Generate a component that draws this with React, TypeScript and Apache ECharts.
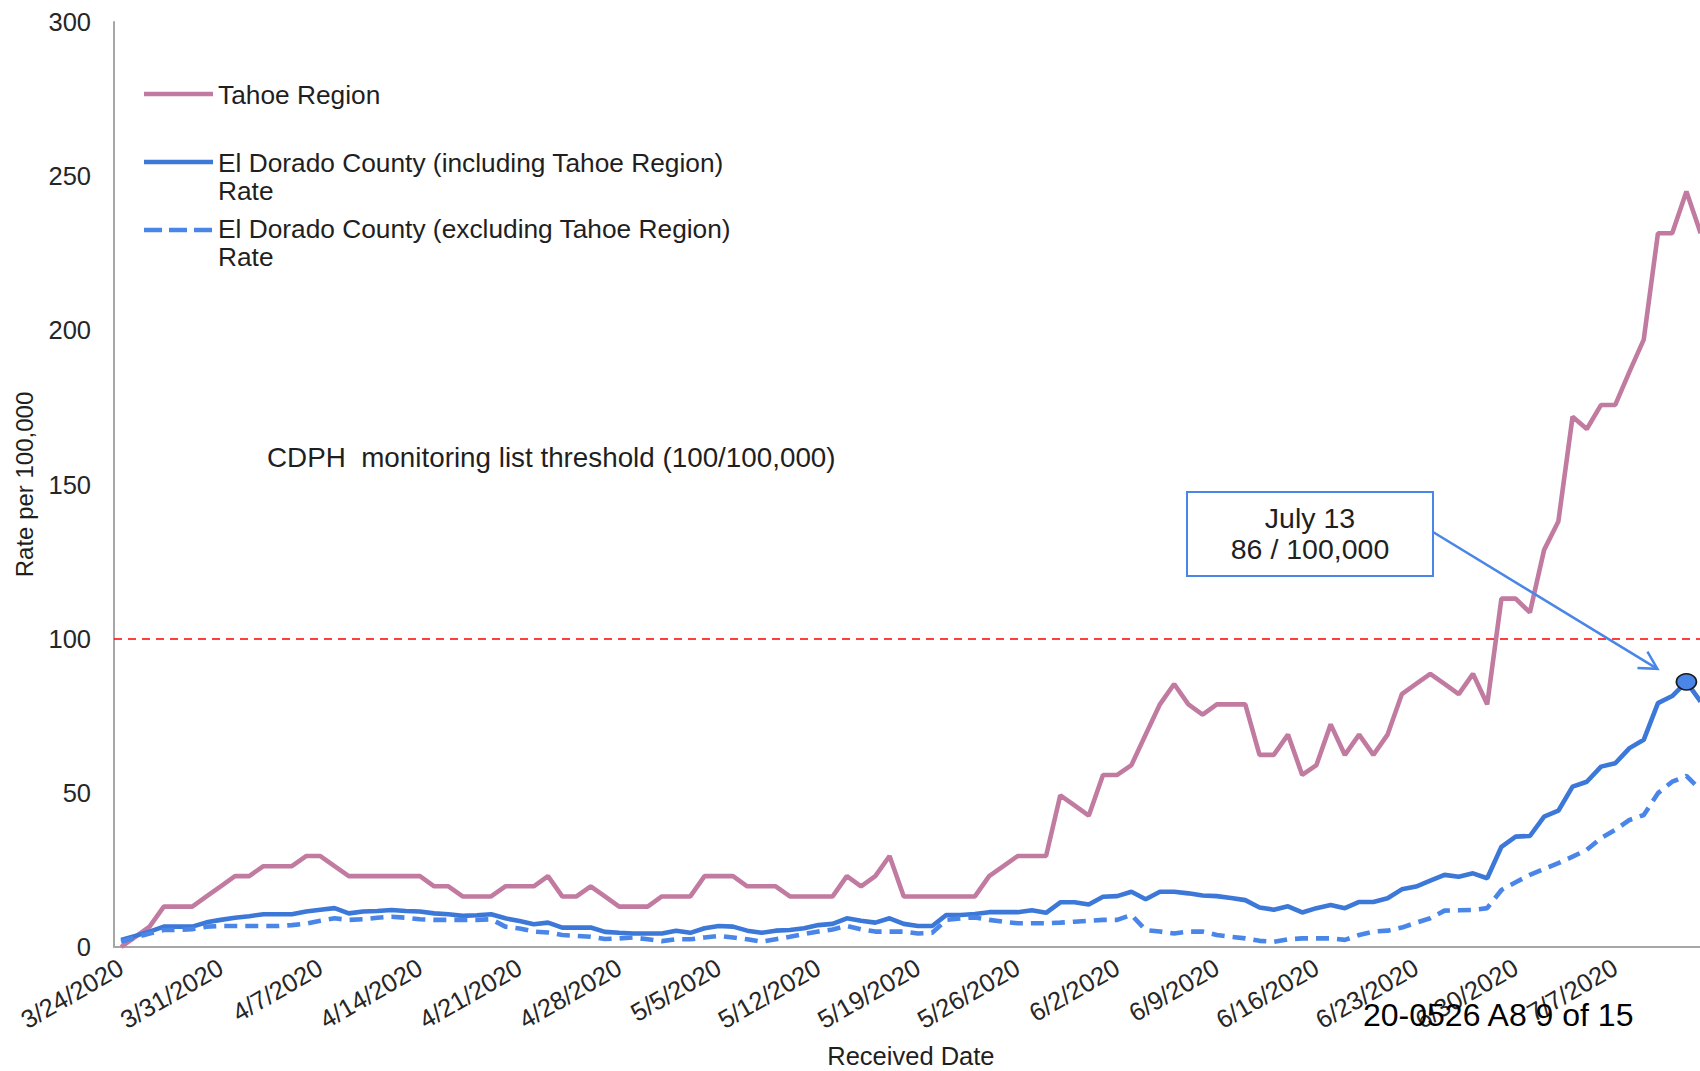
import React, { useEffect, useRef } from "react";
import * as echarts from "echarts";

// ---- data ----
const startDate = [2020, 3, 24]; // year, month, day of the first category
const dayCount = 112;
const dates: string[] = Array.from({ length: dayCount }, (_, i) => {
  const d = new Date(startDate[0], startDate[1] - 1, startDate[2] + i);
  return `${d.getMonth() + 1}/${d.getDate()}/${d.getFullYear()}`;
});

const tahoeRegion = [
  0, 3.3, 6.6, 13.1, 13.1, 13.1, 16.4, 19.7, 23.0, 23.0,
  26.2, 26.2, 26.2, 29.5, 29.5, 26.2, 23.0, 23.0, 23.0, 23.0,
  23.0, 23.0, 19.7, 19.7, 16.4, 16.4, 16.4, 19.7, 19.7, 19.7,
  23.0, 16.4, 16.4, 19.7, 16.4, 13.1, 13.1, 13.1, 16.4, 16.4,
  16.4, 23.0, 23.0, 23.0, 19.7, 19.7, 19.7, 16.4, 16.4, 16.4,
  16.4, 23.0, 19.7, 23.0, 29.5, 16.4, 16.4, 16.4, 16.4, 16.4,
  16.4, 23.0, 26.2, 29.5, 29.5, 29.5, 49.2, 45.9, 42.6, 55.8,
  55.8, 59.0, 68.9, 78.7, 85.3, 78.7, 75.4, 78.7, 78.7, 78.7,
  62.3, 62.3, 68.9, 55.8, 59.0, 72.2, 62.3, 68.9, 62.3, 68.9,
  82.0, 85.3, 88.6, 85.3, 82.0, 88.6, 78.7, 113.0, 113.0, 108.5,
  128.8, 138.0, 172.0, 168.0, 175.8, 175.8, 186.6, 197.0, 231.5, 231.5,
  245.0, 231.5,
];

const elDoradoIncl = [
  2.3, 3.6, 5.0, 6.6, 6.6, 6.6, 8.0, 8.8, 9.5, 10.0,
  10.6, 10.6, 10.6, 11.5, 12.1, 12.6, 10.9, 11.5, 11.7, 12.0,
  11.7, 11.5, 10.9, 10.6, 10.1, 10.3, 10.6, 9.3, 8.4, 7.4,
  7.9, 6.3, 6.3, 6.3, 4.9, 4.6, 4.4, 4.4, 4.4, 5.3,
  4.6, 6.1, 6.8, 6.6, 5.3, 4.6, 5.3, 5.5, 6.1, 7.1,
  7.5, 9.3, 8.5, 7.9, 9.3, 7.5, 6.8, 6.8, 10.4, 10.4,
  10.7, 11.3, 11.3, 11.3, 11.9, 11.1, 14.5, 14.5, 13.8, 16.3,
  16.5, 17.9, 15.5, 17.9, 17.9, 17.4, 16.7, 16.5, 15.9, 15.2,
  12.8, 12.1, 13.2, 11.2, 12.6, 13.6, 12.6, 14.6, 14.6, 15.8,
  18.7, 19.6, 21.5, 23.4, 22.8, 23.9, 22.3, 32.5, 35.8, 36.0,
  42.3, 44.2, 52.0, 53.6, 58.5, 59.6, 64.5, 67.2, 79.1, 81.4,
  86.0, 79.6,
];

const elDoradoExcl = [
  1.7, 3.1, 4.4, 5.5, 5.5, 5.8, 6.6, 6.8, 6.8, 6.8,
  6.8, 6.8, 7.1, 7.6, 8.5, 9.3, 8.8, 9.0, 9.5, 9.8,
  9.5, 9.0, 8.8, 8.8, 8.8, 8.8, 9.0, 6.6, 6.0, 5.0,
  4.7, 3.9, 3.6, 3.3, 2.6, 2.8, 3.1, 2.5, 1.9, 2.5,
  2.5, 3.1, 3.6, 3.1, 2.5, 1.7, 2.5, 3.3, 4.2, 5.0,
  5.7, 6.8, 5.7, 5.0, 5.0, 5.0, 4.4, 4.6, 8.8, 9.3,
  9.6, 8.8, 8.2, 7.7, 7.7, 7.7, 7.9, 8.2, 8.5, 8.8,
  8.8, 10.4, 5.5, 5.0, 4.4, 5.0, 5.0, 3.9, 3.3, 2.8,
  2.0, 1.7, 2.5, 2.8, 2.8, 2.8, 2.3, 3.9, 5.0, 5.3,
  6.3, 7.9, 9.3, 11.8, 11.9, 12.0, 12.6, 18.5, 21.0, 23.4,
  25.3, 27.2, 29.3, 31.5, 35.3, 38.0, 41.2, 42.8, 49.9, 53.6,
  55.5, 50.9,
];

const seriesNames = [
  "Tahoe Region",
  "El Dorado County (including Tahoe Region)",
  "El Dorado County (excluding Tahoe Region)",
];
const thresholdValue = 100;
const thresholdText = "CDPH  monitoring list threshold (100/100,000)";
const highlightIndex = 110;
const highlightLines = ["July 13", "86 / 100,000"];
const stampText = "20-0526 A8 9 of 15";
const yTicks = { min: 0, max: 300, interval: 50 };

const FONT = "'Liberation Sans', Arial, Helvetica, sans-serif";
const C_TAHOE = "#C27BA0";
const C_INCL = "#3C78D8";
const C_EXCL = "#4A86E8";
const C_TEXT = "#1f1f1f";

export default function App() {
  const ref = useRef<HTMLDivElement>(null);

  useEffect(() => {
    if (!ref.current) return;
    const chart = echarts.init(ref.current, undefined, { renderer: "svg" });
    const catW = 14.23;
    chart.setOption({
      animation: false,
      backgroundColor: "#ffffff",
      textStyle: { fontFamily: FONT },
      grid: {
        left: 114,
        top: 22,
        width: catW * dayCount,
        height: 925,
        containLabel: false,
        outerBoundsMode: "none",
      },
      xAxis: {
        type: "category",
        data: dates,
        boundaryGap: true,
        axisLine: { show: true, lineStyle: { color: "#A6A6A6", width: 2 } },
        axisTick: { show: false },
        axisLabel: {
          interval: (i: number) => i % 7 === 0,
          rotate: 30,
          fontSize: 25.5,
          color: "#262626",
          margin: 18,
          fontFamily: FONT,
        },
        name: "Received Date",
        nameLocation: "middle",
        nameGap: 96,
        nameTextStyle: { fontSize: 25.5, color: C_TEXT, fontFamily: FONT },
        splitLine: { show: false },
      },
      yAxis: {
        type: "value",
        min: yTicks.min,
        max: yTicks.max,
        interval: yTicks.interval,
        axisLine: { show: true, lineStyle: { color: "#A6A6A6", width: 2 } },
        axisTick: { show: false },
        splitLine: { show: false },
        axisLabel: { fontSize: 25.5, color: "#262626", margin: 23, fontFamily: FONT },
        name: "Rate per 100,000",
        nameLocation: "middle",
        nameRotate: 90,
        nameGap: 78,
        nameTextStyle: { fontSize: 24, color: C_TEXT, fontFamily: FONT },
      },
      series: [
        {
          name: seriesNames[0],
          type: "line",
          data: tahoeRegion,
          symbol: "none",
          lineStyle: { color: C_TAHOE, width: 4.6 },
          itemStyle: { color: C_TAHOE },
          markLine: {
            silent: true,
            symbol: ["none", "none"],
            label: { show: false },
            lineStyle: { color: "#FF0000", type: [8, 6], width: 1.6 },
            data: [{ yAxis: thresholdValue }],
          },
        },
        {
          name: seriesNames[1],
          type: "line",
          data: elDoradoIncl,
          symbol: "none",
          lineStyle: { color: C_INCL, width: 4.6 },
          itemStyle: { color: C_INCL },
          markPoint: {
            symbol: "circle",
            symbolSize: [20, 16],
            label: { show: false },
            itemStyle: { color: C_EXCL, borderColor: "#1a1a1a", borderWidth: 1.6 },
            data: [{ coord: [highlightIndex, elDoradoIncl[highlightIndex]] }],
          },
        },
        {
          name: seriesNames[2],
          type: "line",
          data: elDoradoExcl,
          symbol: "none",
          lineStyle: { color: C_EXCL, width: 4.6, type: [13, 8] },
          itemStyle: { color: C_EXCL },
        },
      ],
    });

    const p = chart.convertToPixel({ xAxisIndex: 0, yAxisIndex: 0 }, [
      highlightIndex,
      elDoradoIncl[highlightIndex],
    ]) as number[];
    const tip = [p[0] - 29, p[1] - 13];
    const from = [1433, 532];
    const ang = Math.atan2(from[1] - tip[1], from[0] - tip[0]);
    const wing = 20;
    const spread = 0.5;
    const w1 = [tip[0] + wing * Math.cos(ang + spread), tip[1] + wing * Math.sin(ang + spread)];
    const w2 = [tip[0] + wing * Math.cos(ang - spread), tip[1] + wing * Math.sin(ang - spread)];

    const legendText = (x: number, y: number, t: string) => ({
      type: "text",
      x,
      y,
      style: { text: t, fontSize: 26.3, fill: C_TEXT, fontFamily: FONT, verticalAlign: "middle" },
      z: 10,
    });

    chart.setOption({
      graphic: [
        { type: "line", shape: { x1: 144, y1: 94, x2: 213, y2: 94 }, style: { stroke: C_TAHOE, lineWidth: 4.6 }, z: 10 },
        legendText(218, 95, seriesNames[0]),
        { type: "line", shape: { x1: 144, y1: 162, x2: 213, y2: 162 }, style: { stroke: C_INCL, lineWidth: 4.6 }, z: 10 },
        legendText(218, 163, seriesNames[1]),
        legendText(218, 191, "Rate"),
        { type: "line", shape: { x1: 144, y1: 230, x2: 213, y2: 230 }, style: { stroke: C_EXCL, lineWidth: 4.6, lineDash: [18, 7] }, z: 10 },
        legendText(218, 229, seriesNames[2]),
        legendText(218, 257, "Rate"),
        {
          type: "text",
          x: 267,
          y: 457,
          style: { text: thresholdText, fontSize: 27.8, fill: C_TEXT, fontFamily: FONT, verticalAlign: "middle" },
          z: 10,
        },
        {
          type: "rect",
          shape: { x: 1187, y: 492, width: 246, height: 84 },
          style: { fill: "#ffffff", stroke: C_EXCL, lineWidth: 2 },
          z: 10,
        },
        {
          type: "text",
          x: 1310,
          y: 518,
          style: { text: highlightLines[0], fontSize: 28.5, fill: C_TEXT, fontFamily: FONT, align: "center", verticalAlign: "middle" },
          z: 11,
        },
        {
          type: "text",
          x: 1310,
          y: 549,
          style: { text: highlightLines[1], fontSize: 28.5, fill: C_TEXT, fontFamily: FONT, align: "center", verticalAlign: "middle" },
          z: 11,
        },
        {
          type: "line",
          shape: { x1: from[0], y1: from[1], x2: tip[0], y2: tip[1] },
          style: { stroke: C_EXCL, lineWidth: 2.5 },
          z: 11,
        },
        {
          type: "polyline",
          shape: { points: [w1, tip, w2] },
          style: { stroke: C_EXCL, lineWidth: 2.5, fill: null },
          z: 11,
        },
        {
          type: "text",
          x: 1363,
          y: 1015,
          style: { text: stampText, fontSize: 32, fill: "#000000", fontFamily: FONT, verticalAlign: "middle" },
          z: 12,
        },
      ],
    });

    return () => chart.dispose();
  }, []);

  return (
    <div
      style={{
        position: "absolute",
        left: 0,
        top: 0,
        width: 1700,
        height: 1071,
        overflow: "hidden",
        background: "#ffffff",
      }}
    >
      <div ref={ref} style={{ width: 1720, height: 1071 }} />
    </div>
  );
}
